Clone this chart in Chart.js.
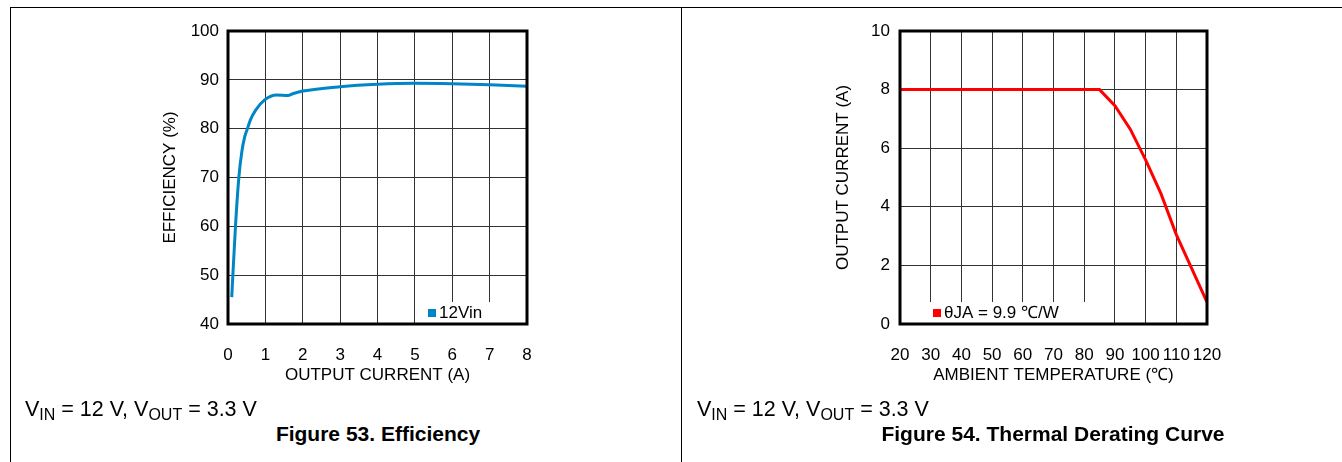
<!DOCTYPE html>
<html>
<head>
<meta charset="utf-8">
<script src="https://cdn.jsdelivr.net/npm/chart.js@4.4.1/dist/chart.umd.min.js"></script>
<style>
  html, body { margin:0; padding:0; background:#fff; }
  body { width:1342px; height:462px; position:relative; overflow:hidden; font-family:'Liberation Sans', Arial, sans-serif; color:#000; }
  .line { position:absolute; background:#000; }
  canvas { position:absolute; top:0; }
  .cond { position:absolute; font-size:21.5px; line-height:24px; white-space:nowrap; top:397px; }
  .cond sub { font-size:16px; vertical-align:-4px; line-height:0; }
  .fig { position:absolute; font-size:21px; line-height:24px; font-weight:bold; white-space:nowrap; top:422px; transform:translateX(-50%); }
</style>
</head>
<body>
<div class="line" style="left:10px; top:7px; width:1332px; height:1px;"></div>
<div class="line" style="left:10px; top:7px; width:1px; height:455px;"></div>
<div class="line" style="left:681px; top:7px; width:1px; height:455px;"></div>

<canvas id="c1" width="680" height="400" style="left:0;width:680px;height:400px;"></canvas>
<canvas id="c2" width="660" height="400" style="left:682px;width:660px;height:400px;"></canvas>

<div class="cond" style="left:25px;">V<sub>IN</sub> = 12 V, V<sub>OUT</sub> = 3.3 V</div>
<div class="fig" style="left:378px;">Figure 53. Efficiency</div>
<div class="cond" style="left:697px;">V<sub>IN</sub> = 12 V, V<sub>OUT</sub> = 3.3 V</div>
<div class="fig" style="left:1053px;">Figure 54. Thermal Derating Curve</div>

<script>
// ---- Data: Figure 53 (Efficiency) ----
const effCurrent = [0.1, 0.13, 0.2, 0.29, 0.37, 0.45, 0.52, 0.6, 0.74, 0.98, 1.3, 1.6, 1.75, 2, 3, 4, 5, 6, 7, 8];
const effValue   = [45.5, 50, 60, 70, 75.3, 78.4, 80, 81.8, 83.8, 85.9, 86.9, 86.8, 87.2, 87.7, 88.6, 89.1, 89.3, 89.2, 89.0, 88.7];
const effLabel = '12Vin';

// ---- Data: Figure 54 (Thermal derating) ----
const ambientTemp = [20, 85, 90, 95, 100, 105, 110, 115, 120];
const outCurrent  = [8, 8, 7.45, 6.65, 5.6, 4.45, 3.05, 1.9, 0.75];
const derLabel = 'θJA = 9.9 ℃/W';

const FONT = "'Liberation Sans', Arial, sans-serif";
const tickFont = { family: FONT, size: 17 };
const GRID = '#333333';

function framePlugin(legendOpts) {
  return {
    id: 'frameLegend',
    beforeDatasetsDraw(chart) {
      const a = chart.chartArea, ctx = chart.ctx;
      const ds = chart.data.datasets[0];
      const bx = legendOpts.fromRight != null ? a.right - legendOpts.fromRight - legendOpts.w : a.left + legendOpts.fromLeft;
      const by = a.bottom - legendOpts.h;
      ctx.save();
      ctx.fillStyle = '#fff';
      ctx.fillRect(bx, by, legendOpts.w, legendOpts.h);
      ctx.fillStyle = ds.borderColor;
      ctx.fillRect(bx + 5, by + 7, 8, 8);
      ctx.fillStyle = '#000';
      ctx.font = "17px " + FONT;
      ctx.textBaseline = 'middle';
      ctx.textAlign = 'left';
      ctx.fillText(ds.label, bx + 16, by + 11);
      ctx.restore();
    },
    afterDatasetsDraw(chart) {
      const a = chart.chartArea, ctx = chart.ctx;
      ctx.save();
      ctx.strokeStyle = '#000';
      ctx.lineWidth = 3;
      ctx.strokeRect(a.left, a.top, a.right - a.left, a.bottom - a.top);
      ctx.restore();
    }
  };
}

function makeChart(id, xs, ys, label, color, xmin, xmax, xstep, ymin, ymax, ystep, xTitle, yTitle, layout, legendOpts, smooth) {
  const pts = xs.map((x, i) => ({ x: x, y: ys[i] }));
  return new Chart(document.getElementById(id), {
    type: 'line',
    data: { datasets: [{
      label: label, data: pts, borderColor: color, backgroundColor: color,
      borderWidth: 3, pointRadius: 0, fill: false,
      cubicInterpolationMode: smooth ? 'monotone' : 'default', tension: 0
    }]},
    options: {
      responsive: false, animation: false, devicePixelRatio: 1,
      layout: { padding: { top: 31, right: layout.right, left: 0, bottom: 0 } },
      plugins: { legend: { display: false }, tooltip: { enabled: false } },
      scales: {
        x: {
          type: 'linear', min: xmin, max: xmax,
          ticks: { stepSize: xstep, color: '#000', font: tickFont, padding: 21, autoSkip: false, maxRotation: 0, minRotation: 0 },
          grid: { color: GRID, lineWidth: 1, drawTicks: false },
          border: { display: false },
          title: { display: true, text: xTitle, color: '#000', font: tickFont, padding: { top: 0, bottom: 14 } },
          afterFit(s) { s.height = 76; }
        },
        y: {
          min: ymin, max: ymax,
          ticks: { stepSize: ystep, color: '#000', font: tickFont, padding: layout.yPad },
          grid: { color: GRID, lineWidth: 1, drawTicks: false },
          border: { display: false },
          title: { display: true, text: yTitle, color: '#000', font: tickFont, padding: { top: layout.yTitlePad, bottom: 0 } },
          afterFit(s) { s.width = layout.left; }
        }
      }
    },
    plugins: [framePlugin(legendOpts)]
  });
}

makeChart('c1', effCurrent, effValue, effLabel, '#0085C7', 0, 8, 1, 40, 100, 10,
  'OUTPUT CURRENT (A)', 'EFFICIENCY (%)',
  { left: 228, right: 153, yPad: 9, yTitlePad: 160 },
  { fromRight: 37, w: 67, h: 22 }, true);

makeChart('c2', ambientTemp, outCurrent, derLabel, '#FF0000', 20, 120, 10, 0, 10, 2,
  'AMBIENT TEMPERATURE (℃)', 'OUTPUT CURRENT (A)',
  { left: 218, right: 135, yPad: 10, yTitlePad: 151 },
  { fromLeft: 28, w: 160, h: 22 }, false);
</script>
</body>
</html>
